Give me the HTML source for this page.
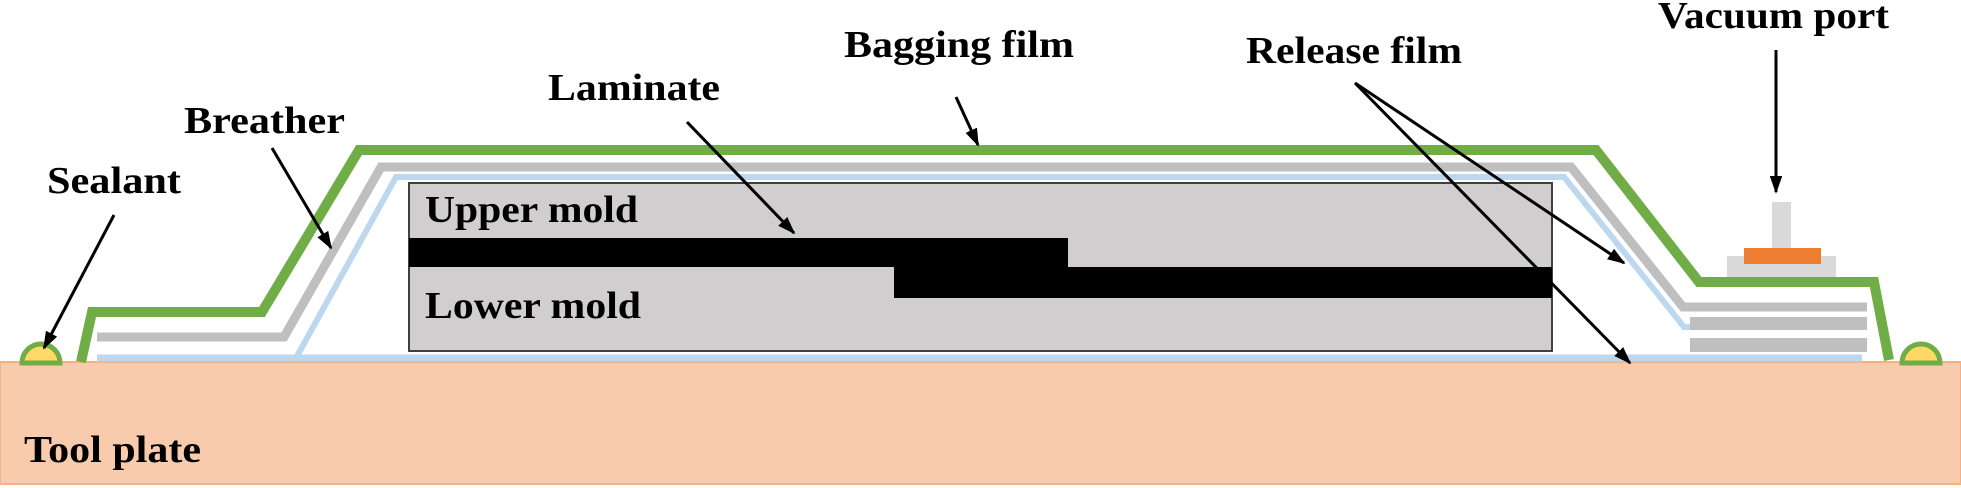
<!DOCTYPE html>
<html><head><meta charset="utf-8"><style>html,body{margin:0;padding:0;background:#fff}svg{display:block}</style></head>
<body>
<svg width="1961" height="488" viewBox="0 0 1961 488" xmlns="http://www.w3.org/2000/svg">
<defs>
<marker id="ah" viewBox="0 0 10 10" refX="9" refY="5" markerWidth="6" markerHeight="6" orient="auto" markerUnits="strokeWidth"><path d="M0,1.5 L10,5 L0,8.5 z" fill="#000"/></marker>
</defs>
<rect x="0" y="362" width="1961" height="122" fill="#f8cbad" stroke="#f4b183" stroke-width="2"/>
<polyline points="97,358 1862,358" fill="none" stroke="#bdd7ee" stroke-width="7"/>
<polyline points="296,358 396,177 1564,177 1684,327 1862,327" fill="none" stroke="#bdd7ee" stroke-width="6"/>
<polyline points="97,337 284,337 381,167 1571,167 1683,307 1867,307" fill="none" stroke="#bfbfbf" stroke-width="9"/>
<rect x="1690" y="317" width="177" height="13" fill="#bfbfbf"/>
<rect x="1690" y="338" width="177" height="14" fill="#bfbfbf"/>
<rect x="409" y="183" width="1143" height="168" fill="#d0cece" stroke="#404040" stroke-width="2"/>
<rect x="409" y="238" width="659" height="29" fill="#000"/>
<rect x="894" y="267" width="658" height="31" fill="#000"/>
<rect x="1727" y="256" width="109" height="27" fill="#d9d9d9"/>
<rect x="1772" y="202" width="19" height="46" fill="#d9d9d9"/>
<rect x="1744" y="248" width="77" height="16" fill="#ed7d31"/>
<polyline points="81,362 92,312 262,312 359,150 1596,150 1699,282 1874,282 1889,360" fill="none" stroke="#70ad47" stroke-width="10" stroke-linejoin="miter"/>
<path d="M22,363 A19,19 0 0 1 60,363 Z" fill="#ffd966" stroke="#70ad47" stroke-width="5"/>
<path d="M1902,363 A19,19 0 0 1 1940,363 Z" fill="#ffd966" stroke="#70ad47" stroke-width="5"/>
<g stroke="#000" stroke-width="3" fill="none" marker-end="url(#ah)">
<line x1="114" y1="215" x2="44" y2="348"/>
<line x1="272" y1="148" x2="331" y2="248"/>
<line x1="687" y1="122" x2="794" y2="233"/>
<line x1="956" y1="97" x2="978" y2="145"/>
<line x1="1355" y1="83" x2="1624" y2="263"/>
<line x1="1355" y1="83" x2="1630" y2="363"/>
<line x1="1776" y1="50" x2="1776" y2="192"/>
</g>
<g font-family="'Liberation Serif', serif" font-weight="bold" font-size="38" fill="#000">
<text x="47" y="193" textLength="134" lengthAdjust="spacingAndGlyphs">Sealant</text>
<text x="184" y="133" textLength="161" lengthAdjust="spacingAndGlyphs">Breather</text>
<text x="548" y="100" textLength="172" lengthAdjust="spacingAndGlyphs">Laminate</text>
<text x="844" y="57" textLength="230" lengthAdjust="spacingAndGlyphs">Bagging film</text>
<text x="1246" y="63" textLength="216" lengthAdjust="spacingAndGlyphs">Release film</text>
<text x="1658" y="28" textLength="231" lengthAdjust="spacingAndGlyphs">Vacuum port</text>
<text x="425" y="222" textLength="213" lengthAdjust="spacingAndGlyphs">Upper mold</text>
<text x="425" y="318" textLength="216" lengthAdjust="spacingAndGlyphs">Lower mold</text>
<text x="24" y="462" textLength="177" lengthAdjust="spacingAndGlyphs">Tool plate</text>
</g>
</svg>
</body></html>
